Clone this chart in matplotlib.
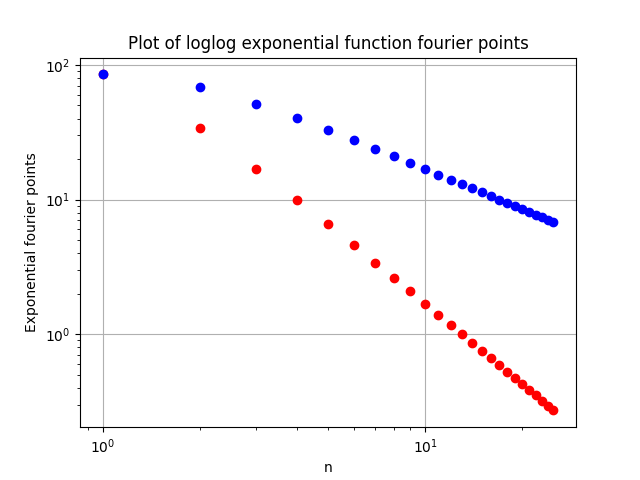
import matplotlib
matplotlib.use('Agg')
import matplotlib.pyplot as plt

# harmonic index
n = list(range(1, 26))

# cosine coefficients (red)
a_n = [85.07, 34.03, 17.01, 10.01, 6.54, 4.60, 3.40, 2.62, 2.08, 1.68,
       1.40, 1.18, 1.00, 0.866, 0.754, 0.663, 0.588, 0.524, 0.471, 0.424,
       0.385, 0.351, 0.321, 0.295, 0.272]

# sine coefficients magnitude (blue)
b_n = [85.07, 68.05, 51.04, 40.03, 32.72, 27.59, 23.82, 20.99, 18.70, 16.84,
       15.34, 14.08, 13.01, 12.11, 11.31, 10.61, 10.00, 9.42, 8.95, 8.49,
       8.09, 7.72, 7.39, 7.08, 6.80]

fig = plt.figure(figsize=(6.4, 4.8), dpi=100)
plt.loglog(n, a_n, 'ro')
plt.loglog(n, b_n, 'bo')
plt.grid(True)
plt.title('Plot of loglog exponential function fourier points')
plt.xlabel('n')
plt.ylabel('Exponential fourier points')
plt.savefig('out.png')
